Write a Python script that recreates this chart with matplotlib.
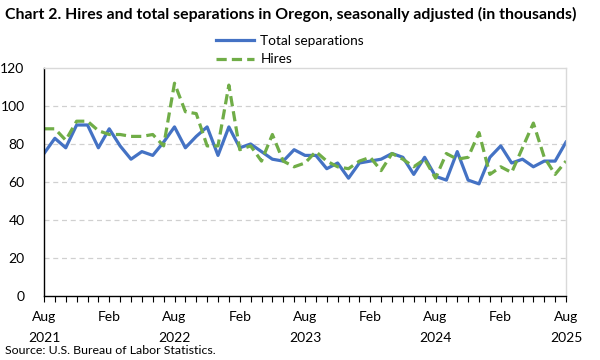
import matplotlib
matplotlib.use("Agg")
import matplotlib.pyplot as plt
import numpy as np

plt.rcParams['font.family'] = ['Lato', 'DejaVu Sans']

months = ["Aug\n2021", "", "", "", "", "", "Feb", "", "", "", "", "",
          "Aug\n2022", "", "", "", "", "", "Feb", "", "", "", "", "",
          "Aug\n2023", "", "", "", "", "", "Feb", "", "", "", "", "",
          "Aug\n2024", "", "", "", "", "", "Feb", "", "", "", "", "",
          "Aug\n2025"]

separations = [75, 83, 78, 90, 90, 78, 88, 79, 72, 76, 74, 81,
               89, 78, 84, 89, 74, 89, 78, 80, 76, 72, 71, 77,
               74, 74, 67, 70, 62, 70, 71, 72, 75, 73, 64, 73,
               63, 61, 76, 61, 59, 73, 79, 70, 72, 68, 71, 71,
               81]

hires = [88, 88, 82, 92, 92, 87, 85, 85, 84, 84, 85, 79,
         112, 97, 96, 79, 79, 111, 77, 79, 71, 85, 71, 68,
         70, 76, 71, 68, 67, 71, 73, 66, 75, 72, 68, 72,
         62, 75, 72, 73, 86, 64, 68, 65, 78, 91, 73, 64,
         71]

yticks = [0, 20, 40, 60, 80, 100, 120]

fig = plt.figure(figsize=(6, 3.6), dpi=100)
ax = fig.add_axes([44/600, 1-296/360, (566-44)/600, (296-68)/360])

x = np.arange(len(months))
ax.plot(x, separations, color='#4472C4', lw=2.3, label='Total separations', solid_joinstyle='round')
ax.plot(x, hires, color='#70AD47', lw=2.3, ls=(0, (3.2, 1.6)), label='Hires')

ax.set_xlim(0, len(months)-1)
ax.set_ylim(0, 120)
ax.set_yticks(yticks)
ax.set_yticklabels([str(v) for v in yticks], fontsize=10)
for v in yticks[1:-1]:
    ax.axhline(v, color='#D0D0D0', lw=0.9, ls=(0, (4, 3)), zorder=0)

ax.set_xticks(x)
ax.set_xticklabels(months, fontsize=10, linespacing=1.9)
ax.tick_params(axis='x', direction='out', length=4, width=0.8, color='black', pad=7)
ax.tick_params(axis='y', length=0, pad=14)

for s in ['left', 'bottom']:
    ax.spines[s].set_color('black')
    ax.spines[s].set_linewidth(1.0)
for s in ['top', 'right']:
    ax.spines[s].set_color('#D9D9D9')
    ax.spines[s].set_linewidth(1.0)

leg = fig.legend(loc='upper center', bbox_to_anchor=(0.483, 0.925), ncol=1, frameon=False,
                 fontsize=9.8, handlelength=2.8, handletextpad=0.5, labelspacing=0.45, borderpad=0.1)

fig.text(5/600, 1-14/360, "Chart 2. Hires and total separations in Oregon, seasonally adjusted (in thousands)",
         fontsize=11.4, fontweight='bold', va='center', ha='left')
fig.text(5/600, 1-351/360, "Source: U.S. Bureau of Labor Statistics.", fontsize=8.9, va='center', ha='left')

fig.savefig('out.png', dpi=100)
